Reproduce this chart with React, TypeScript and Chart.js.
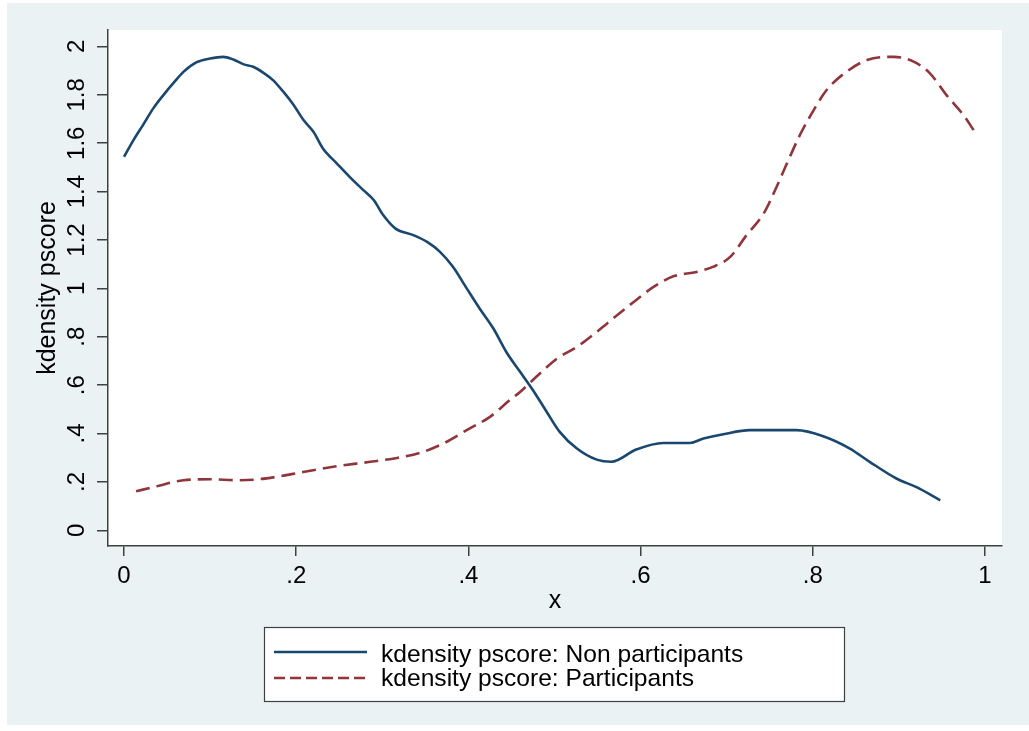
import React, { useEffect, useRef } from "react";
import { Chart, registerables } from "chart.js";

Chart.register(...registerables);

// ---- data ----
const nonX = [0, 0.011, 0.022, 0.034, 0.046, 0.057, 0.069, 0.084, 0.1, 0.115, 0.127, 0.139, 0.15, 0.162, 0.173, 0.185, 0.197, 0.208, 0.22, 0.231, 0.247, 0.262, 0.278, 0.29, 0.301, 0.315, 0.336, 0.352, 0.367, 0.382, 0.398, 0.413, 0.429, 0.444, 0.46, 0.475, 0.491, 0.506, 0.526, 0.549, 0.566, 0.595, 0.626, 0.657, 0.673, 0.696, 0.727, 0.758, 0.781, 0.812, 0.843, 0.866, 0.897, 0.921, 0.948];
const nonY = [1.544, 1.613, 1.675, 1.744, 1.8, 1.847, 1.895, 1.934, 1.95, 1.957, 1.946, 1.926, 1.916, 1.891, 1.861, 1.813, 1.758, 1.698, 1.647, 1.578, 1.517, 1.461, 1.406, 1.365, 1.303, 1.248, 1.22, 1.192, 1.151, 1.089, 1.0, 0.917, 0.834, 0.737, 0.655, 0.579, 0.489, 0.407, 0.338, 0.292, 0.283, 0.334, 0.361, 0.361, 0.379, 0.397, 0.414, 0.414, 0.414, 0.389, 0.338, 0.283, 0.214, 0.177, 0.124];

const partX = [0.014, 0.038, 0.069, 0.1, 0.131, 0.154, 0.177, 0.208, 0.247, 0.286, 0.317, 0.344, 0.371, 0.398, 0.425, 0.448, 0.46, 0.483, 0.503, 0.526, 0.549, 0.561, 0.592, 0.615, 0.638, 0.665, 0.684, 0.704, 0.723, 0.743, 0.758, 0.77, 0.785, 0.801, 0.816, 0.839, 0.863, 0.894, 0.917, 0.936, 0.955, 0.975, 0.988];
const partY = [0.161, 0.182, 0.207, 0.211, 0.207, 0.21, 0.221, 0.241, 0.265, 0.283, 0.299, 0.32, 0.359, 0.414, 0.469, 0.538, 0.572, 0.648, 0.71, 0.758, 0.82, 0.855, 0.944, 1.006, 1.05, 1.068, 1.089, 1.13, 1.22, 1.31, 1.42, 1.517, 1.634, 1.737, 1.82, 1.895, 1.944, 1.957, 1.937, 1.889, 1.8, 1.716, 1.647];

const xTicks = [0, 0.2, 0.4, 0.6, 0.8, 1];
const yTicks = [0, 0.2, 0.4, 0.6, 0.8, 1, 1.2, 1.4, 1.6, 1.8, 2];

const seriesLabels = ["kdensity pscore: Non participants", "kdensity pscore: Participants"];
const xTitle = "x";
const yTitle = "kdensity pscore";

// ---- styling ----
const W = 1029;
const H = 731;
const FONT = "'Liberation Sans', Arial, Helvetica, sans-serif";
const FS = 24;
const FS_TITLE = 25;
const FS_LEGEND = 24.6;
const BG = "#EAF2F3";
const AXIS = "#404040";
const BLUE = "#1A476F";
const RED = "#90353B";

const fmt = (v: number) => {
  const s = String(Math.round(v * 10) / 10);
  return s.startsWith("0.") ? s.slice(1) : s;
};

export default function App() {
  const ref = useRef<HTMLCanvasElement>(null);

  useEffect(() => {
    if (!ref.current) return;

    const stataPlugin = {
      id: "stataDecor",
      beforeDraw(chart: any) {
        const { ctx, chartArea } = chart;
        ctx.save();
        ctx.fillStyle = "#ffffff";
        ctx.fillRect(0, 0, W, H);
        ctx.fillStyle = BG;
        ctx.fillRect(7, 3, W - 7, 722);
        ctx.fillStyle = "#ffffff";
        ctx.fillRect(chartArea.left, chartArea.top, chartArea.right - chartArea.left, chartArea.bottom - chartArea.top);
        ctx.restore();
      },
      afterDraw(chart: any) {
        const { ctx, chartArea } = chart;
        ctx.save();
        ctx.fillStyle = "#000";
        ctx.font = `${FS_TITLE}px ${FONT}`;
        // x title
        ctx.textAlign = "center";
        ctx.textBaseline = "middle";
        ctx.fillText(xTitle, (chartArea.left + chartArea.right) / 2, 601);
        // y title
        ctx.save();
        ctx.translate(48, (chartArea.top + chartArea.bottom) / 2);
        ctx.rotate(-Math.PI / 2);
        ctx.fillText(yTitle, 0, 0);
        ctx.restore();

        // legend box
        const lx = 264, ly = 627, lw = 580, lh = 74;
        ctx.fillStyle = "#ffffff";
        ctx.fillRect(lx, ly, lw, lh);
        ctx.strokeStyle = AXIS;
        ctx.lineWidth = 1.2;
        ctx.strokeRect(lx + 0.5, ly + 0.5, lw, lh);

        const rows = [
          { lineY: 652, textY: 662 },
          { lineY: 678, textY: 686 },
        ];
        ctx.font = `${FS_LEGEND}px ${FONT}`;
        chart.data.datasets.forEach((ds: any, i: number) => {
          const r = rows[i];
          ctx.beginPath();
          ctx.strokeStyle = ds.borderColor;
          ctx.lineWidth = ds.borderWidth;
          ctx.setLineDash(i === 1 ? [11, 5] : []);
          ctx.moveTo(274, r.lineY);
          ctx.lineTo(367, r.lineY);
          ctx.stroke();
          ctx.setLineDash([]);
          ctx.fillStyle = "#000";
          ctx.textAlign = "left";
          ctx.textBaseline = "alphabetic";
          ctx.fillText(ds.label, 381, r.textY);
        });
        ctx.restore();
      },
    };

    const chart = new Chart(ref.current, {
      type: "line",
      data: {
        datasets: [
          {
            label: seriesLabels[0],
            data: nonX.map((x, i) => ({ x, y: nonY[i] })),
            borderColor: BLUE,
            borderWidth: 2.6,
            pointRadius: 0,
            fill: false,
            cubicInterpolationMode: "monotone",
          },
          {
            label: seriesLabels[1],
            data: partX.map((x, i) => ({ x, y: partY[i] })),
            borderColor: RED,
            borderWidth: 2.6,
            borderDash: [14, 7],
            pointRadius: 0,
            fill: false,
            cubicInterpolationMode: "monotone",
          },
        ],
      },
      options: {
        responsive: false,
        animation: false,
        events: [],
        layout: { padding: { left: 0, top: 30, right: 27, bottom: 0 } },
        plugins: {
          legend: { display: false },
          tooltip: { enabled: false },
          title: { display: false },
        },
        scales: {
          x: {
            type: "linear",
            min: -0.0186,
            max: 1.0197,
            afterBuildTicks: (s: any) => {
              s.ticks = xTicks.map((value) => ({ value }));
            },
            afterFit: (s: any) => {
              s.height = H - 546;
            },
            border: { display: true, color: AXIS, width: 1.5 },
            grid: { display: true, drawOnChartArea: false, drawTicks: true, tickLength: 10, color: AXIS, lineWidth: 1.5 },
            ticks: {
              autoSkip: false,
              maxRotation: 0,
              minRotation: 0,
              padding: 6,
              color: "#000",
              font: { family: FONT, size: FS },
              callback: (v: any) => fmt(Number(v)),
            },
          },
          y: {
            type: "linear",
            min: -0.065,
            max: 2.068,
            afterBuildTicks: (s: any) => {
              s.ticks = yTicks.map((value) => ({ value }));
            },
            afterFit: (s: any) => {
              s.width = 108;
            },
            border: { display: true, color: AXIS, width: 1.5 },
            grid: { display: true, drawOnChartArea: false, drawTicks: true, tickLength: 11, color: AXIS, lineWidth: 1.5 },
            ticks: {
              autoSkip: false,
              minRotation: 90,
              maxRotation: 90,
              crossAlign: "center",
              padding: 3,
              color: "#000",
              font: { family: FONT, size: FS },
              callback: (v: any) => fmt(Number(v)),
            },
          },
        },
      },
      plugins: [stataPlugin],
    } as any);

    return () => chart.destroy();
  }, []);

  return (
    <div style={{ position: "fixed", left: 0, top: 0, width: W, height: H, background: "#fff" }}>
      <canvas ref={ref} width={W} height={H} style={{ display: "block", width: W, height: H }} />
    </div>
  );
}
